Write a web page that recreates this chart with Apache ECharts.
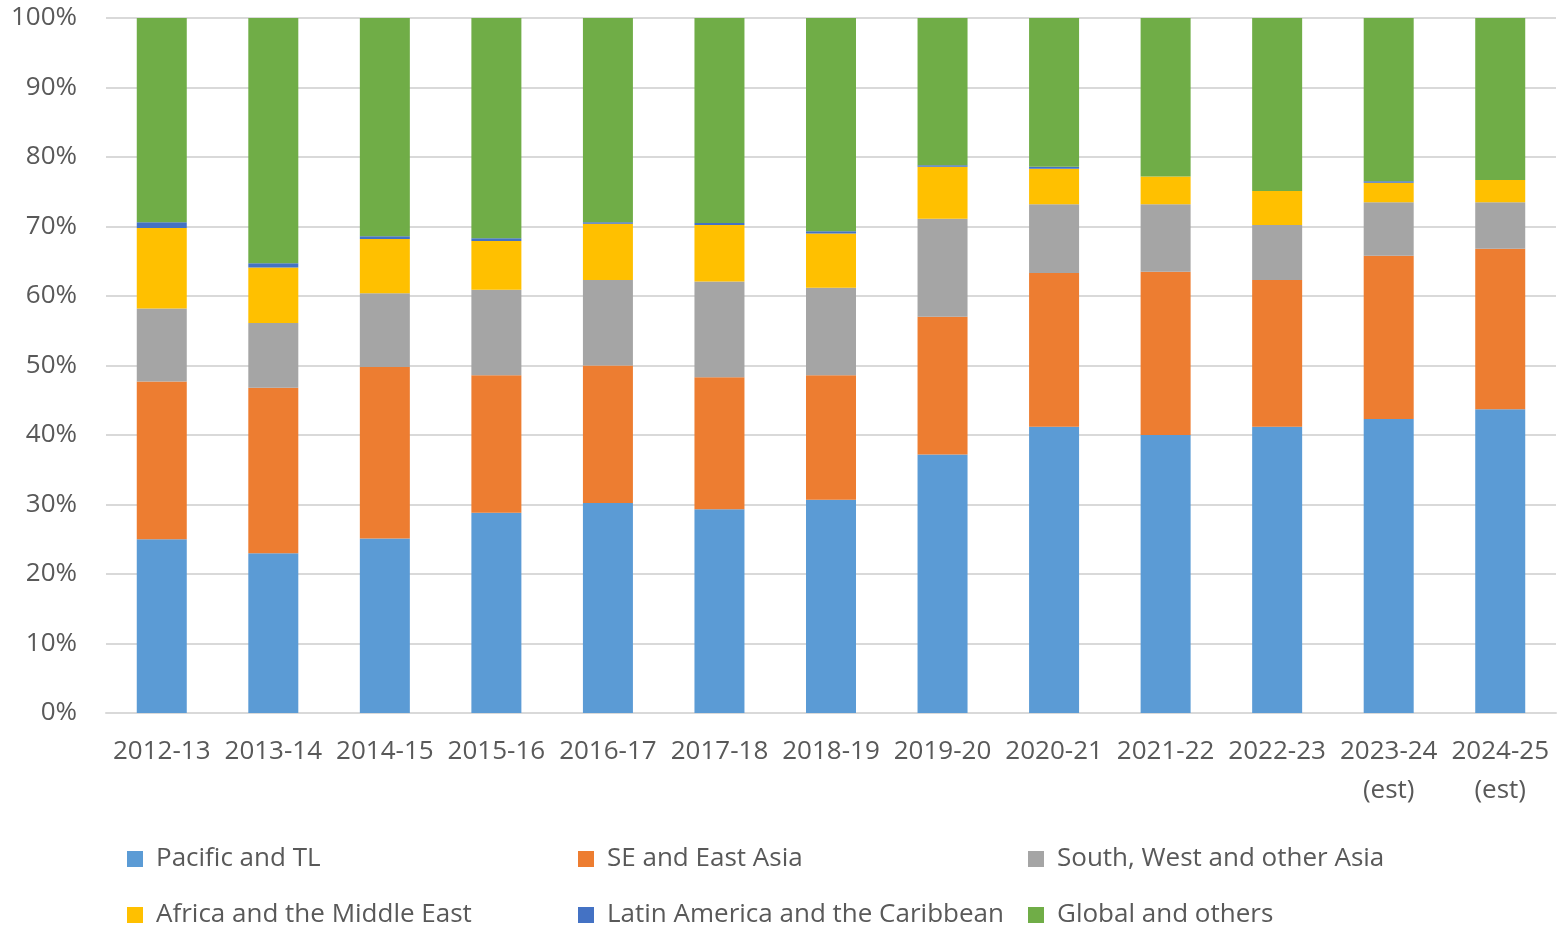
<!DOCTYPE html>
<html>
<head>
<meta charset="utf-8">
<script src="https://cdn.jsdelivr.net/npm/echarts@6/dist/echarts.min.js"></script>
<style>
  html, body { margin: 0; padding: 0; background: #fff; }
  #main { width: 1560px; height: 929px; }
</style>
</head>
<body>
<div id="main"></div>
<script>
var chartDom = document.getElementById('main');
var myChart = echarts.init(chartDom);
var option;

const years = ['2012-13', '2013-14', '2014-15', '2015-16', '2016-17', '2017-18', '2018-19',
  '2019-20', '2020-21', '2021-22', '2022-23', '2023-24\n(est)', '2024-25\n(est)'];

// shares in percent
const pacific = [25.0, 23.0, 25.1, 28.8, 30.2, 29.3, 30.7, 37.2, 41.2, 40.0, 41.2, 42.3, 43.7];
const seAsia  = [22.7, 23.8, 24.7, 19.8, 19.8, 19.0, 17.9, 19.8, 22.1, 23.5, 21.1, 23.5, 23.1];
const swAsia  = [10.5, 9.3, 10.6, 12.3, 12.3, 13.8, 12.6, 14.1, 9.9, 9.7, 7.9, 7.7, 6.7];
const africa  = [11.6, 8.0, 7.8, 7.0, 8.1, 8.1, 7.8, 7.5, 5.1, 4.0, 4.9, 2.8, 3.2];
const latam   = [0.8, 0.6, 0.4, 0.4, 0.2, 0.3, 0.3, 0.2, 0.3, 0, 0, 0.2, 0];
const global  = [29.4, 35.3, 31.4, 31.7, 29.4, 29.5, 30.7, 21.2, 21.4, 22.8, 24.9, 23.5, 23.3];

const names = ['Pacific and TL', 'SE and East Asia', 'South, West and other Asia',
  'Africa and the Middle East', 'Latin America and the Caribbean', 'Global and others'];
const colors = ['#5B9BD5', '#ED7D31', '#A5A5A5', '#FFC000', '#4472C4', '#70AD47'];
const values = [pacific, seAsia, swAsia, africa, latam, global];

const fontFamily = '"Open Sans", "Noto Sans", sans-serif';
const textColor = '#595959';

// one legend per column, two rows each
function legendColumn(left, items) {
  return {
    orient: 'vertical',
    left: left,
    top: 846,
    width: 440,
    height: 200,
    padding: 0,
    itemWidth: 16,
    itemHeight: 16,
    itemGap: 30,
    icon: 'rect',
    data: items,
    textStyle: {
      fontFamily: fontFamily,
      fontSize: 26,
      color: textColor,
      lineHeight: 16,
      padding: [0, 0, 0, 8]
    }
  };
}

option = {
  color: colors,
  animation: false,
  grid: {
    left: 106,
    right: 4,
    top: 18,
    bottom: 216,
    containLabel: false
  },
  legend: [
    legendColumn(127, [names[0], names[3]]),
    legendColumn(578, [names[1], names[4]]),
    legendColumn(1028, [names[2], names[5]])
  ],
  xAxis: {
    type: 'category',
    data: years,
    axisLine: { lineStyle: { color: '#D9D9D9', width: 2 } },
    axisTick: { show: false },
    axisLabel: {
      interval: 0,
      margin: 19,
      fontFamily: fontFamily,
      fontSize: 26,
      lineHeight: 39,
      color: textColor
    }
  },
  yAxis: {
    type: 'value',
    min: 0,
    max: 100,
    interval: 10,
    axisLine: { show: false },
    axisTick: { show: false },
    splitLine: { lineStyle: { color: '#D9D9D9', width: 2 } },
    axisLabel: {
      margin: 29,
      formatter: '{value}%',
      fontFamily: fontFamily,
      fontSize: 26,
      color: textColor
    }
  },
  series: names.map(function (name, i) {
    return {
      name: name,
      type: 'bar',
      stack: 'total',
      barWidth: 50,
      data: values[i],
      itemStyle: { color: colors[i] }
    };
  })
};

option && myChart.setOption(option);
</script>
</body>
</html>
